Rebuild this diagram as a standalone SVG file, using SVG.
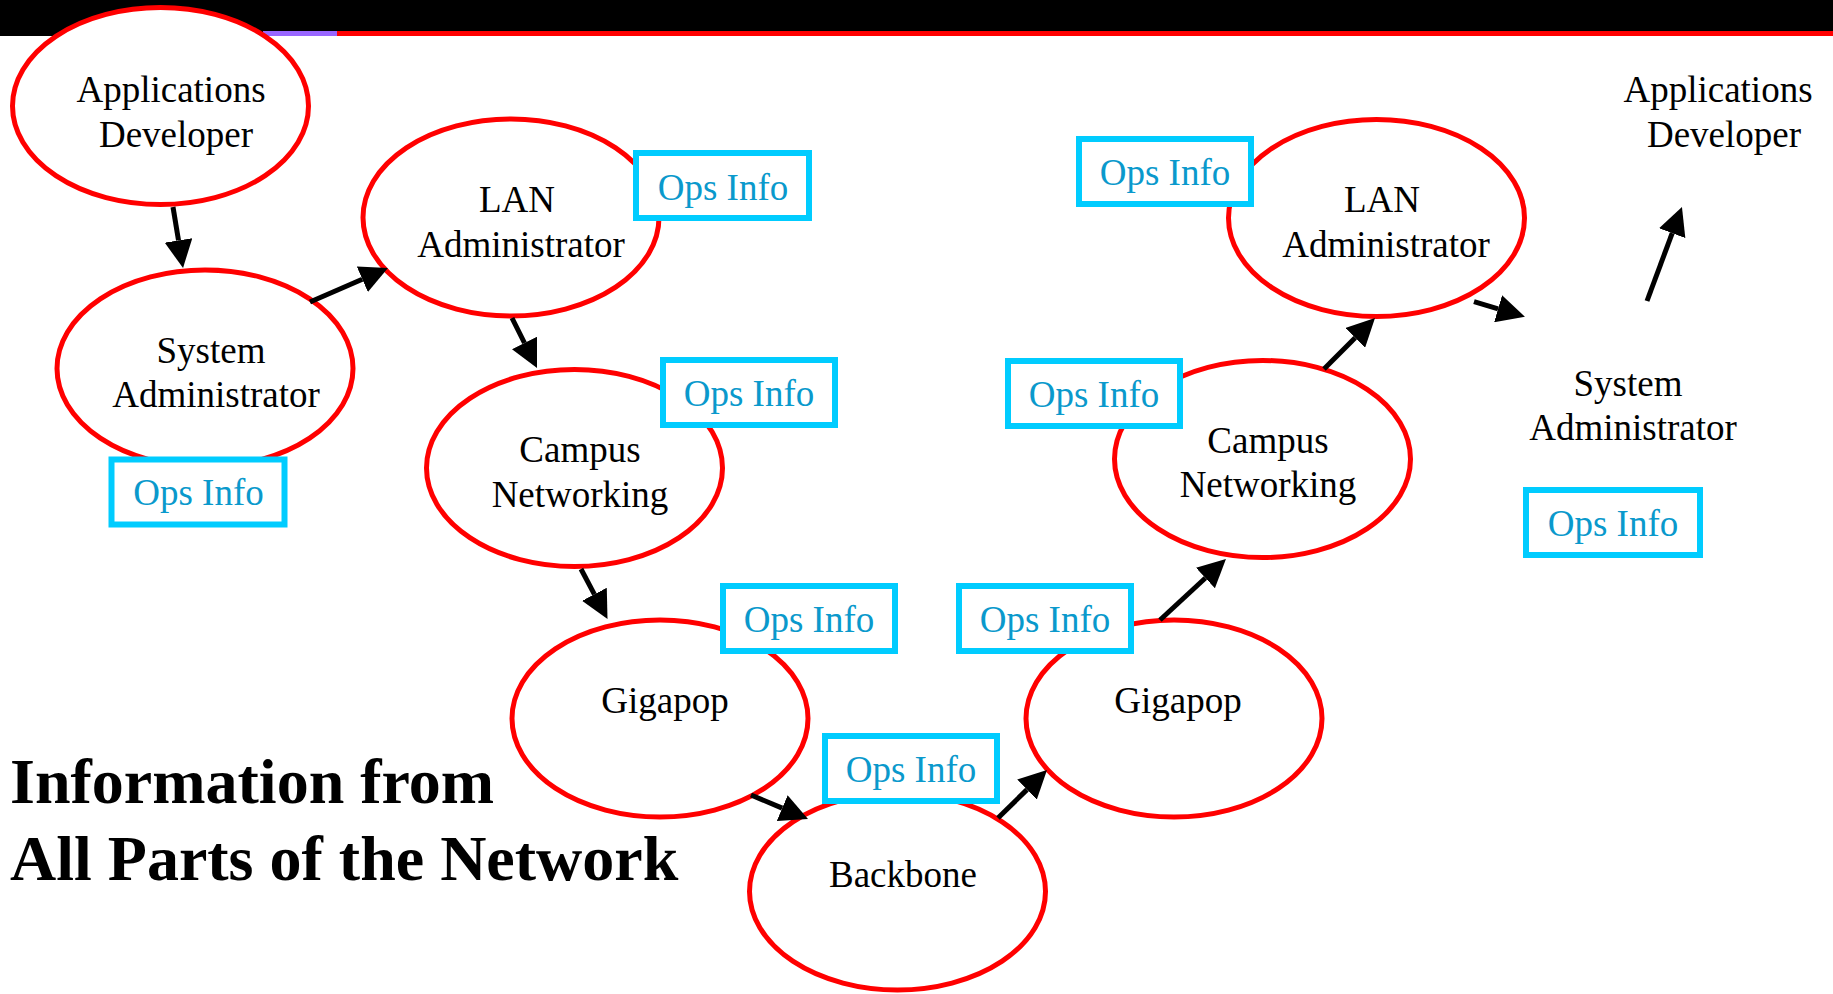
<svg xmlns="http://www.w3.org/2000/svg" width="1833" height="994" viewBox="0 0 1833 994">
<defs>
<style>
.node{fill:#FFFFFF;stroke:#FF0000;stroke-width:5}
.lbl{font-family:"Liberation Serif","Times New Roman",serif;font-size:37px;fill:#000000;text-anchor:middle}
.ops rect{fill:#FFFFFF;stroke:#00CCFF;stroke-width:6}
.ops text{font-family:"Liberation Serif","Times New Roman",serif;font-size:37px;fill:#0A99CC;text-anchor:middle}
.title{font-family:"Liberation Serif","Times New Roman",serif;font-size:64px;font-weight:bold;fill:#000000}
.conn line{stroke:#000000;stroke-width:5;marker-end:url(#arr)}
</style>
<marker id="arr" markerUnits="userSpaceOnUse" markerWidth="28" markerHeight="28" refX="0" refY="14" orient="auto" viewBox="0 0 28 28">
<path d="M0,0 L28,14 L0,28 Z" fill="#000000"/>
</marker>
</defs>
<rect x="0" y="0" width="1833" height="994" fill="#FFFFFF"/>
<g id="topbar">
<rect x="0" y="0" width="1833" height="31" fill="#000000"/>
<rect x="0" y="31" width="263" height="5" fill="#000000"/>
<rect x="263" y="31" width="74" height="5" fill="#9966FF"/>
<rect x="337" y="31" width="1496" height="5" fill="#FF0000"/>
</g>
<g id="node-appdev-left">
<ellipse class="node" cx="160.5" cy="106" rx="148" ry="98.5"/>
<text class="lbl" x="171" y="102">Applications</text>
<text class="lbl" x="176" y="147">Developer</text>
</g>
<g id="node-sysadmin-left">
<ellipse class="node" cx="205" cy="368.5" rx="148" ry="98.5"/>
<text class="lbl" x="211" y="363">System</text>
<text class="lbl" x="216" y="407">Administrator</text>
</g>
<g id="node-lan-left">
<ellipse class="node" cx="511" cy="217.5" rx="148" ry="98.5"/>
<text class="lbl" x="517" y="212">LAN</text>
<text class="lbl" x="521" y="257">Administrator</text>
</g>
<g id="node-campus-left">
<ellipse class="node" cx="574.5" cy="468" rx="148" ry="98.5"/>
<text class="lbl" x="580" y="462">Campus</text>
<text class="lbl" x="580" y="507">Networking</text>
</g>
<g id="node-gigapop-left">
<ellipse class="node" cx="660" cy="718.5" rx="148" ry="98.5"/>
<text class="lbl" x="665" y="713">Gigapop</text>
</g>
<g id="node-backbone">
<ellipse class="node" cx="897.5" cy="891.5" rx="148" ry="98.5"/>
<text class="lbl" x="903" y="887">Backbone</text>
</g>
<g id="node-gigapop-right">
<ellipse class="node" cx="1174" cy="718.5" rx="148" ry="98.5"/>
<text class="lbl" x="1178" y="713">Gigapop</text>
</g>
<g id="node-campus-right">
<ellipse class="node" cx="1262.5" cy="459" rx="148" ry="98.5"/>
<text class="lbl" x="1268" y="453">Campus</text>
<text class="lbl" x="1268" y="497">Networking</text>
</g>
<g id="node-lan-right">
<ellipse class="node" cx="1376.5" cy="218" rx="148" ry="98.5"/>
<text class="lbl" x="1382" y="212">LAN</text>
<text class="lbl" x="1386" y="257">Administrator</text>
</g>
<g id="node-appdev-right">
<text class="lbl" x="1718" y="102">Applications</text>
<text class="lbl" x="1724" y="147">Developer</text>
</g>
<g id="node-sysadmin-right">
<text class="lbl" x="1628" y="396">System</text>
<text class="lbl" x="1633" y="440">Administrator</text>
</g>
<g id="ops-sysadmin-left" class="ops">
<rect x="111.5" y="459.5" width="173" height="65"/>
<text x="198.5" y="505">Ops Info</text>
</g>
<g id="ops-lan-left" class="ops">
<rect x="636" y="153" width="173" height="65"/>
<text x="723" y="200">Ops Info</text>
</g>
<g id="ops-campus-left" class="ops">
<rect x="663" y="360" width="172" height="65"/>
<text x="749" y="406">Ops Info</text>
</g>
<g id="ops-gigapop-left" class="ops">
<rect x="723" y="586" width="172" height="65"/>
<text x="809" y="632">Ops Info</text>
</g>
<g id="ops-backbone" class="ops">
<rect x="825" y="736" width="172" height="65"/>
<text x="911" y="782">Ops Info</text>
</g>
<g id="ops-gigapop-right" class="ops">
<rect x="959" y="586" width="172" height="65"/>
<text x="1045" y="632">Ops Info</text>
</g>
<g id="ops-campus-right" class="ops">
<rect x="1008" y="361" width="172" height="65"/>
<text x="1094" y="407">Ops Info</text>
</g>
<g id="ops-lan-right" class="ops">
<rect x="1079" y="139" width="172" height="65"/>
<text x="1165" y="185">Ops Info</text>
</g>
<g id="ops-sysadmin-right" class="ops">
<rect x="1526" y="490" width="174" height="65"/>
<text x="1613" y="536">Ops Info</text>
</g>
<g id="connectors" class="conn">
<line x1="173" y1="207" x2="178.5" y2="240.4"/>
<line x1="310" y1="302" x2="362.3" y2="279.2"/>
<line x1="512" y1="318" x2="524.5" y2="343"/>
<line x1="581" y1="569" x2="594.4" y2="594.3"/>
<line x1="751" y1="795" x2="782.2" y2="808.1"/>
<line x1="998" y1="818" x2="1027" y2="789.6"/>
<line x1="1160" y1="620" x2="1205.4" y2="578"/>
<line x1="1324" y1="369" x2="1355.2" y2="337.8"/>
<line x1="1474" y1="301.7" x2="1498.1" y2="308.8"/>
<line x1="1647" y1="301" x2="1672.2" y2="233.2"/>
</g>
<g id="title">
<text class="title" x="10" y="803">Information from</text>
<text class="title" x="10" y="880">All Parts of the Network</text>
</g>
</svg>
